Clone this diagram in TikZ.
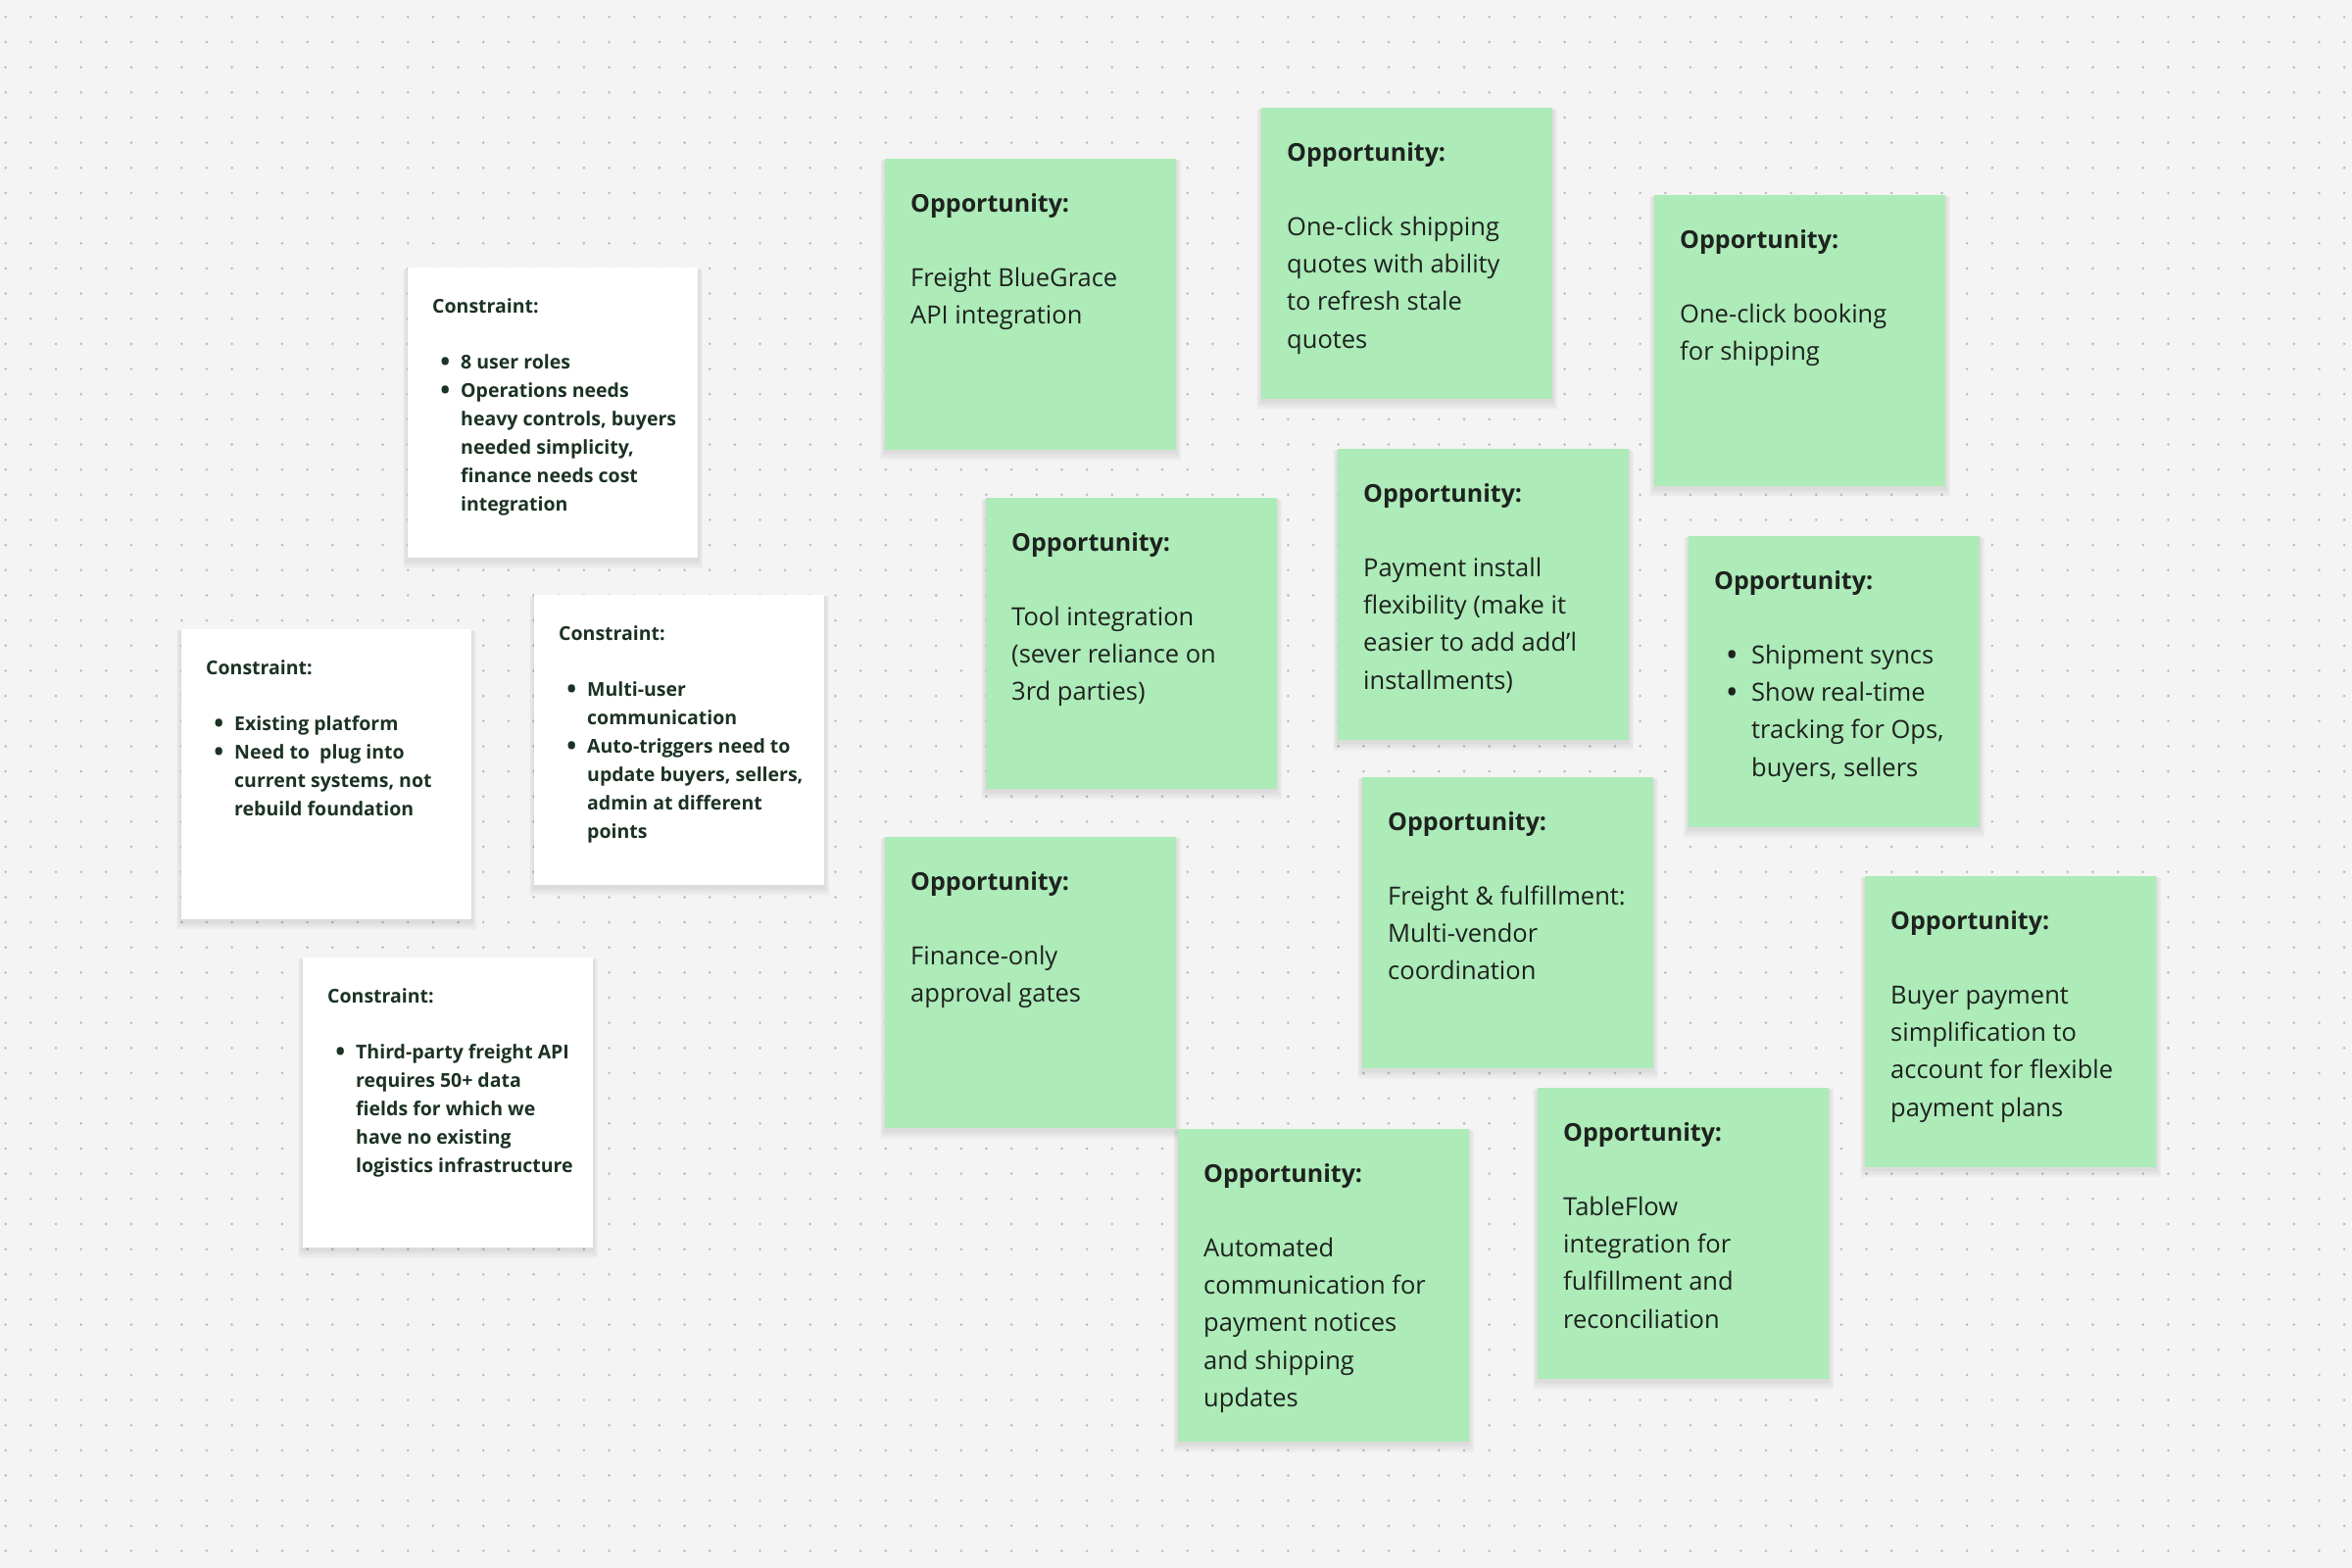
\documentclass[tikz,border=0pt]{standalone}
\usepackage{fontspec}
\setmainfont{Open Sans}
\usetikzlibrary{backgrounds}
\definecolor{bgc}{HTML}{F4F4F4}
\definecolor{dotc}{HTML}{BBBBBB}
\definecolor{stickyg}{HTML}{ADEBB8}
\definecolor{gtext}{HTML}{1E221F}
\definecolor{ctext}{HTML}{1C3224}
\newcommand\bigbullet{\raisebox{-0.12em}{\scalebox{1.35}{•}}}
\newcommand\blt[2]{\makebox[0pt][l]{\hspace*{#1}\makebox[0pt]{\bigbullet}}\hspace*{#2}}
\begin{document}
\begin{tikzpicture}[x=1bp,y=-1bp,
  notebox/.style={anchor=north west, inner sep=0, outer sep=0, minimum width=297bp, minimum height=297bp},
  gnote/.style={notebox, fill=stickyg},
  cnote/.style={notebox, fill=white, minimum width=296bp, minimum height=296bp},
  gtitle/.style={anchor=base west, inner sep=0, font=\fontsize{25bp}{38bp}\selectfont\bfseries, text=gtext},
  gbody/.style={anchor=north west, inner sep=0, align=left, font=\fontsize{25.5bp}{38.3bp}\selectfont, text=gtext},
  ctitle/.style={anchor=base west, inner sep=0, font=\fontsize{19.5bp}{29bp}\selectfont\bfseries, text=ctext},
  cbody/.style={anchor=north west, inner sep=0, align=left, font=\fontsize{19.5bp}{29bp}\selectfont\bfseries, text=ctext},
]
\useasboundingbox (0,0) rectangle (2400,1600);
\begin{scope}[on background layer]
  \fill[bgc] (0,0) rectangle (2400,1600);
  \foreach \i in {0,...,93}{
    \foreach \j in {0,...,61}{
      \fill[dotc] (5.7+\i*25.66, 17.3+\j*25.66) circle[radius=1.4bp];
    }
  }
\end{scope}

% ---------- constraint notes ----------
\node[cnote] (C1) at (416,273) {};
\node[ctitle] (C1t) at (441,319) {Constraint:};
\node[cbody] (C1b) at (441,352) {\blt{13bp}{29bp}\rule{0pt}{24bp}8 user roles\\
\blt{13bp}{29bp}Operations needs\\
\hspace*{29bp}heavy controls, buyers\\
\hspace*{29bp}needed simplicity,\\
\hspace*{29bp}finance needs cost\\
\hspace*{29bp}integration};

\node[cnote] (C2) at (185,642) {};
\node[ctitle] (C2t) at (210,688) {Constraint:};
\node[cbody] (C2b) at (210,721) {\blt{13bp}{29bp}\rule{0pt}{24bp}Existing platform\\
\blt{13bp}{29bp}Need to\ \ plug into\\
\hspace*{29bp}current systems, not\\
\hspace*{29bp}rebuild foundation};

\node[cnote] (C3) at (545,607) {};
\node[ctitle] (C3t) at (570,653) {Constraint:};
\node[cbody] (C3b) at (570,686) {\blt{13bp}{29bp}\rule{0pt}{24bp}Multi-user\\
\hspace*{29bp}communication\\
\blt{13bp}{29bp}Auto-triggers need to\\
\hspace*{29bp}update buyers, sellers,\\
\hspace*{29bp}admin at different\\
\hspace*{29bp}points};

\node[cnote] (C4) at (309,977) {};
\node[ctitle] (C4t) at (334,1023) {Constraint:};
\node[cbody] (C4b) at (334,1056) {\blt{13bp}{29bp}\rule{0pt}{24bp}Third-party freight API\\
\hspace*{29bp}requires 50+ data\\
\hspace*{29bp}fields for which we\\
\hspace*{29bp}have no existing\\
\hspace*{29bp}logistics infrastructure};

% ---------- opportunity notes ----------
\node[gnote] (A) at (903,162) {};
\node[gtitle] (At) at (929,216) {Opportunity:};
\node[gbody] (Ab) at (929,262) {\rule{0pt}{30bp}Freight BlueGrace\\API integration};

\node[gnote] (B) at (1287,110) {};
\node[gtitle] (Bt) at (1313,164) {Opportunity:};
\node[gbody] (Bb) at (1313,210) {\rule{0pt}{30bp}One-click shipping\\quotes with ability\\to refresh stale\\quotes};

\node[gnote] (C) at (1688,199) {};
\node[gtitle] (Ct) at (1714,253) {Opportunity:};
\node[gbody] (Cb) at (1714,299) {\rule{0pt}{30bp}One-click booking\\for shipping};

\node[gnote] (D) at (1006,508) {};
\node[gtitle] (Dt) at (1032,562) {Opportunity:};
\node[gbody] (Db) at (1032,608) {\rule{0pt}{30bp}Tool integration\\(sever reliance on\\3rd parties)};

\node[gnote] (E) at (1365,458) {};
\node[gtitle] (Et) at (1391,512) {Opportunity:};
\node[gbody] (Eb) at (1391,558) {\rule{0pt}{30bp}Payment install\\flexibility (make it\\easier to add add’l\\installments)};

\node[gnote] (F) at (1723,547) {};
\node[gtitle] (Ft) at (1749,601) {Opportunity:};
\node[gbody] (Fb) at (1749,647) {\blt{18bp}{38bp}\rule{0pt}{30bp}Shipment syncs\\
\blt{18bp}{38bp}Show real-time\\
\hspace*{38bp}tracking for Ops,\\
\hspace*{38bp}buyers, sellers};

\node[gnote] (G) at (903,854) {};
\node[gtitle] (Gt) at (929,908) {Opportunity:};
\node[gbody] (Gb) at (929,954) {\rule{0pt}{30bp}Finance-only\\approval gates};

\node[gnote] (H) at (1390,793) {};
\node[gtitle] (Ht) at (1416,847) {Opportunity:};
\node[gbody] (Hb) at (1416,893) {\rule{0pt}{30bp}Freight \& fulfillment:\\Multi-vendor\\coordination};

\node[gnote] (I) at (1903,894) {};
\node[gtitle] (It) at (1929,948) {Opportunity:};
\node[gbody] (Ib) at (1929,994) {\rule{0pt}{30bp}Buyer payment\\simplification to\\account for flexible\\payment plans};

\node[gnote, minimum height=319bp] (J) at (1202,1152) {};
\node[gtitle] (Jt) at (1228,1206) {Opportunity:};
\node[gbody] (Jb) at (1228,1252) {\rule{0pt}{30bp}Automated\\communication for\\payment notices\\and shipping\\updates};

\node[gnote] (K) at (1569,1110) {};
\node[gtitle] (Kt) at (1595,1164) {Opportunity:};
\node[gbody] (Kb) at (1595,1210) {\rule{0pt}{30bp}TableFlow\\integration for\\fulfillment and\\reconciliation};

% ---------- soft shadows ----------
\begin{scope}[on background layer]
  \foreach \n in {C1,C2,C3,C4,A,B,C,D,E,F,G,H,I,J,K}{
    \foreach \k in {1,...,6}{
      \fill[black, opacity=0.014]
        ([xshift={-0.9bp*\k}, yshift={-2bp-1.5bp*\k}]\n.south west)
        rectangle ([xshift={0.9bp*\k}, yshift={-0.3bp*\k}]\n.north east);
    }
  }
\end{scope}
\end{tikzpicture}
\end{document}
